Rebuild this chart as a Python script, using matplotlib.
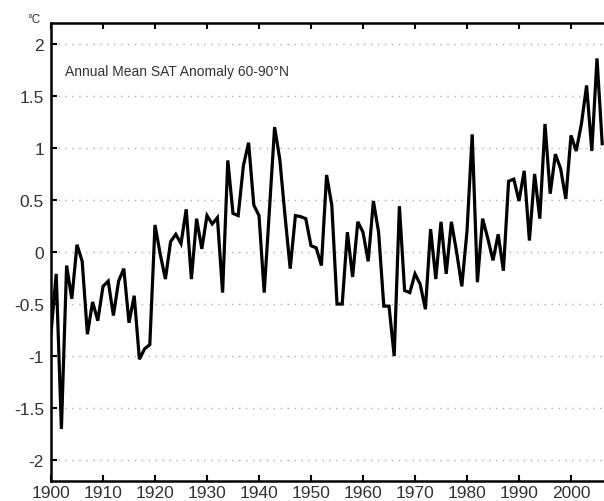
import matplotlib
matplotlib.use("Agg")
from matplotlib import pyplot as plt
import numpy as np

# Annual mean SAT anomaly 60-90N
years = np.arange(1900, 2007)
anomaly = [
    -0.78, -0.21, -1.70, -0.13, -0.45, 0.07, -0.09, -0.79, -0.48, -0.66,
    -0.33, -0.28, -0.61, -0.28, -0.16, -0.68, -0.42, -1.03, -0.93, -0.89,
    0.26, -0.02, -0.26, 0.10, 0.17, 0.08, 0.41, -0.26, 0.32, 0.03,
    0.35, 0.27, 0.33, -0.39, 0.88, 0.37, 0.35, 0.83, 1.05, 0.45,
    0.35, -0.39, 0.40, 1.20, 0.89, 0.35, -0.16, 0.35, 0.34, 0.32,
    0.06, 0.04, -0.13, 0.74, 0.45, -0.50, -0.50, 0.19, -0.24, 0.29,
    0.19, -0.09, 0.49, 0.19, -0.52, -0.52, -1.00, 0.44, -0.37, -0.39,
    -0.21, -0.31, -0.55, 0.22, -0.26, 0.29, -0.21, 0.29, 0.00, -0.33,
    0.20, 1.13, -0.29, 0.32, 0.13, -0.08, 0.17, -0.18, 0.68, 0.70,
    0.49, 0.78, 0.11, 0.75, 0.32, 1.23, 0.56, 0.94, 0.80, 0.51,
    1.12, 0.97, 1.23, 1.60, 0.97, 1.86, 1.04,
]
x_ticks = np.arange(1900, 2001, 10)
y_ticks = [-2, -1.5, -1, -0.5, 0, 0.5, 1, 1.5, 2]
y_labels = ["-2", "-1.5", "-1", "-0.5", "0", "0.5", "1", "1.5", "2"]


def main():
    plt.rcParams["font.family"] = ["Liberation Sans", "DejaVu Sans"]
    fig = plt.figure(figsize=(6.04, 5.02), dpi=100)
    # axes run past the right edge, like the cropped original
    ax = fig.add_axes([51 / 604, 20 / 502, 561.6 / 604, 458 / 502])

    ax.plot(years, anomaly, color="black", lw=2.3, solid_joinstyle="miter")

    ax.set_xlim(1900, 2008)
    ax.set_ylim(-2.2, 2.2)
    ax.set_xticks(x_ticks)
    ax.set_yticks(y_ticks)
    ax.set_yticklabels(y_labels)

    for y in y_ticks:
        ax.axhline(y, color="#b0b0b0", lw=1, ls=(0, (1, 4)), zorder=0)

    ax.tick_params(axis="both", direction="in", length=4, width=1.5,
                   labelsize=12.5, labelcolor="#333333", top=True)
    ax.tick_params(axis="x", pad=3)
    ax.tick_params(axis="y", pad=5)
    for side in ["left", "bottom", "top", "right"]:
        ax.spines[side].set_linewidth(1.8)

    ax.text(0.025, 0.895, "Annual Mean SAT Anomaly 60-90°N",
            transform=ax.transAxes, fontsize=10, color="#333333",
            va="center", ha="left")
    fig.text(27 / 604, 1 - 20 / 502, "°C", fontsize=8.5, color="#333333",
             va="center", ha="left")

    fig.savefig("out.png", dpi=100)


if __name__ == "__main__":
    main()
